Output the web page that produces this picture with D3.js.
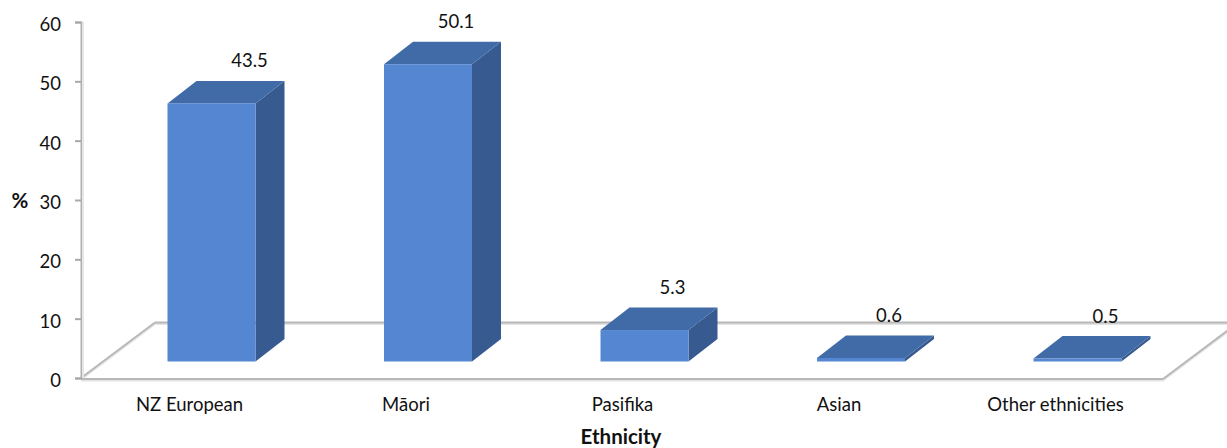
<!DOCTYPE html>
<html>
<head>
<meta charset="utf-8">
<script src="https://cdn.jsdelivr.net/npm/d3@7"></script>
<style>
  html, body { margin: 0; padding: 0; background: #fff; }
  svg { display: block; }
  text { font-family: Lato, "Open Sans", sans-serif; fill: #111; font-size: 18.5px; }
</style>
</head>
<body>
<svg id="chart" width="1227" height="448"></svg>
<script>
// Share of each ethnic group, in percent
const categories = ["NZ European", "Māori", "Pasifika", "Asian", "Other ethnicities"];
const percentages = [43.5, 50.1, 5.3, 0.6, 0.5];
const valueTicks = [0, 10, 20, 30, 40, 50, 60];

const svg = d3.select("#chart");

const y = d3.scaleLinear().domain([0, 60]).range([378, 22]);
const x = d3.scaleBand()
  .domain(categories)
  .range([103.25, 1185.75])
  .paddingInner(0.5935)
  .paddingOuter(0.2968);

// Oblique projection used for the depth of the bars and of the floor
const barDepth = { dx: 29, dy: -22.5 };
const floorDepth = { dx: 74, dy: -55.5 };
const barLift = 16.5;         // front of the bars sits this far up the floor

const poly = pts => pts.map(p => p.join(",")).join(" ");

// Floor outline, each edge with a pale drop shadow underneath
const floorEdges = [
  [81, y(0), 81 + floorDepth.dx, y(0) + floorDepth.dy],
  [81 + floorDepth.dx, y(0) + floorDepth.dy, 1240, y(0) + floorDepth.dy],
  [81, y(0) + 1, 1163, y(0) + 1],
  [1163, y(0) + 1, 1240, y(0) + 1 + floorDepth.dy * (77 / 74)]
];
const floor = svg.append("g");
floor.selectAll("line.shadow").data(floorEdges).join("line")
  .attr("class", "shadow")
  .attr("x1", d => d[0]).attr("y1", d => d[1] + 1.5)
  .attr("x2", d => d[2]).attr("y2", d => d[3] + 1.5)
  .attr("stroke", "#e4e4e4").attr("stroke-width", 2);
floor.selectAll("line.edge").data(floorEdges).join("line")
  .attr("class", "edge")
  .attr("x1", d => d[0]).attr("y1", d => d[1])
  .attr("x2", d => d[2]).attr("y2", d => d[3])
  .attr("stroke", "#b8b8b8").attr("stroke-width", 2);

// Value axis
const yAxis = svg.append("g")
  .attr("transform", "translate(81,0)")
  .call(d3.axisLeft(y).tickValues(valueTicks).tickSize(6).tickPadding(14));
yAxis.select(".domain").attr("stroke", "#b0b0b0").attr("stroke-width", 2);
yAxis.selectAll(".tick line").attr("stroke", "#a8a8a8").attr("stroke-width", 2);
yAxis.selectAll("text")
  .style("font-size", "18.5px")
  .attr("fill", "#111")
  .attr("dy", "0.46em");
svg.append("line")
  .attr("x1", 83).attr("x2", 83)
  .attr("y1", y(60)).attr("y2", y(0))
  .attr("stroke", "#e6e6e6").attr("stroke-width", 2);

// Bars: front face, top face and right side
const bars = svg.selectAll("g.bar")
  .data(categories.map((c, i) => ({ c, v: percentages[i] })))
  .join("g").attr("class", "bar");

const barLeft = d => x(d.c);
const barRight = d => x(d.c) + x.bandwidth();
const barBase = y(0) - barLift;
const barTop = d => y(d.v) - barLift;

bars.append("polygon").attr("fill", "#375b90")
  .attr("points", d => poly([
    [barRight(d), barTop(d)],
    [barRight(d) + barDepth.dx, barTop(d) + barDepth.dy],
    [barRight(d) + barDepth.dx, barBase + barDepth.dy],
    [barRight(d), barBase]
  ]));
bars.append("polygon").attr("fill", "#406ba7")
  .attr("points", d => poly([
    [barLeft(d), barTop(d)],
    [barLeft(d) + barDepth.dx, barTop(d) + barDepth.dy],
    [barRight(d) + barDepth.dx, barTop(d) + barDepth.dy],
    [barRight(d), barTop(d)]
  ]));
bars.append("rect").attr("fill", "#5586d1")
  .attr("x", barLeft).attr("y", barTop)
  .attr("width", x.bandwidth())
  .attr("height", d => barBase - barTop(d));

// Value labels above the back edge of each bar
bars.append("text")
  .attr("text-anchor", "middle")
  .attr("x", (d, i) => x(d.c) + x.bandwidth() / 2 + (i === 0 ? 38 : 28))
  .attr("y", d => barTop(d) + barDepth.dy - 13.5)
  .text(d => d.v.toFixed(1));

// Category labels under the floor
svg.append("g").selectAll("text").data(categories).join("text")
  .attr("text-anchor", "middle")
  .attr("x", d => x(d) + x.bandwidth() / 2 - 22)
  .attr("y", 411)
  .text(d => d);

// Axis titles
svg.append("text").attr("x", 20).attr("y", 208).attr("text-anchor", "middle")
  .style("font-weight", "700").style("font-size", "20.5px").text("%");
svg.append("text").attr("x", 621).attr("y", 444).attr("text-anchor", "middle")
  .style("font-weight", "700").style("font-size", "20.5px").text("Ethnicity");
</script>
</body>
</html>
